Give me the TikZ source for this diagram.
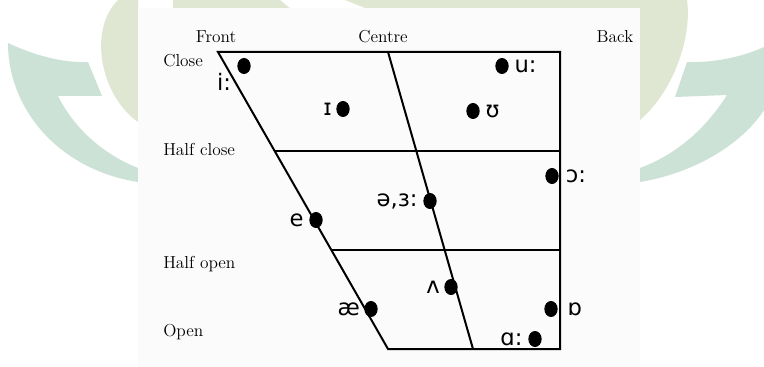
\documentclass[tikz,border=0pt]{standalone}
\usepackage{fontspec}
\newfontfamily\ipafont{DejaVu Sans}
\usetikzlibrary{positioning,shapes.geometric}
\definecolor{leafteal}{HTML}{CDE2D6}
\definecolor{leafolive}{HTML}{DFE7D3}
\definecolor{panel}{HTML}{FBFBFB}
\tikzset{
  vdot/.style={ellipse, fill=black, minimum width=10pt, minimum height=12pt, inner sep=0pt},
  ipa/.style ={inner sep=0pt, font=\ipafont\fontsize{17}{17}\selectfont},
  axl/.style ={inner sep=0pt, font=\fontsize{13}{15}\selectfont},
  rim/.style ={line width=1.5pt},
}
\begin{document}
\begin{tikzpicture}[x=0.75pt, y=-0.75pt]
  \useasboundingbox (0,0) rectangle (764,367);
  % faint logo behind the chart
  \fill[white] (0,0) rectangle (764,367);
  \fill[leafolive] (118,0) .. controls (88,30) and (100,95) .. (138,122) -- (138,0) -- cycle;
  \fill[leafolive] (687,0) .. controls (692,35) and (675,90) .. (640,120) -- (640,0) -- cycle;
  \fill[leafolive] (173,0) -- (280,0) -- (292,10) -- (173,10) -- cycle;
  \fill[leafolive] (345,0) -- (640,0) -- (640,10) -- (370,10) -- cycle;
  \fill[leafteal] (8,43) .. controls (40,58) and (68,63) .. (88,62) -- (102,96) -- (58,96)
    .. controls (75,130) and (105,155) .. (138,168) -- (138,182)
    .. controls (60,170) and (8,110) .. (8,43) -- cycle;
  \fill[leafteal] (764,47) .. controls (740,58) and (710,63) .. (687,62) -- (675,97) -- (727,95)
    .. controls (705,130) and (675,155) .. (640,168) -- (640,182)
    .. controls (700,172) and (745,140) .. (764,110) -- cycle;
  \fill[panel] (138,8) rectangle (640,367);

  % vowel chart
  \coordinate (fc)  at (218,52);
  \coordinate (cc)  at (388,52);
  \coordinate (bc)  at (560,52);
  \coordinate (fhc) at (274.6,151);
  \coordinate (bhc) at (560,151);
  \coordinate (fho) at (331,250);
  \coordinate (bho) at (560,250);
  \coordinate (fo)  at (388,349);
  \coordinate (co)  at (473,349);
  \coordinate (bo)  at (560,349);
  \draw[rim] (fc) -- (bc) -- (bo) -- (fo) -- cycle;
  \draw[rim] (cc) -- (co);
  \draw[rim] (fhc) -- (bhc);
  \draw[rim] (fho) -- (bho);

  \node[axl, anchor=base] (front)  at (216,43) {Front};
  \node[axl, anchor=base] (centre) at (383,43) {Centre};
  \node[axl, anchor=base] (back)   at (615,43) {Back};
  \node[axl, anchor=base west] (close)  at (163,67)  {Close};
  \node[axl, anchor=base west] (hclose) at (163,156) {Half close};
  \node[axl, anchor=base west] (hopen)  at (163,268) {Half open};
  \node[axl, anchor=base west] (open)   at (163,336) {Open};

  \node[vdot] (iy) at (244,66)  {};
  \node[vdot] (ih) at (343,109) {};
  \node[vdot] (uw) at (502,66)  {};
  \node[vdot] (uh) at (473,111) {};
  \node[vdot] (ao) at (552,176) {};
  \node[vdot] (er) at (430,201) {};
  \node[vdot] (eh) at (316,220) {};
  \node[vdot] (ah) at (451,287) {};
  \node[vdot] (ae) at (371,309) {};
  \node[vdot] (oh) at (551,309) {};
  \node[vdot] (aa) at (535,339) {};

  \node[ipa] (iy-l) at (224,82) {i:};
  \node[ipa, left=3pt of ih]  (ih-l) {ɪ};
  \node[ipa, right=4pt of uw] (uw-l) {u:};
  \node[ipa, right=4pt of uh] (uh-l) {ʊ};
  \node[ipa, right=5pt of ao] (ao-l) {ɔ:};
  \node[ipa, left=4pt of er]  (er-l) {ə,ɜ:};
  \node[ipa, left=4pt of eh]  (eh-l) {e};
  \node[ipa, left=3pt of ah]  (ah-l) {ʌ};
  \node[ipa, left=3pt of ae]  (ae-l) {æ};
  \node[ipa, right=7pt of oh] (oh-l) {ɒ};
  \node[ipa, left=4pt of aa]  (aa-l) {ɑ:};
\end{tikzpicture}
\end{document}
